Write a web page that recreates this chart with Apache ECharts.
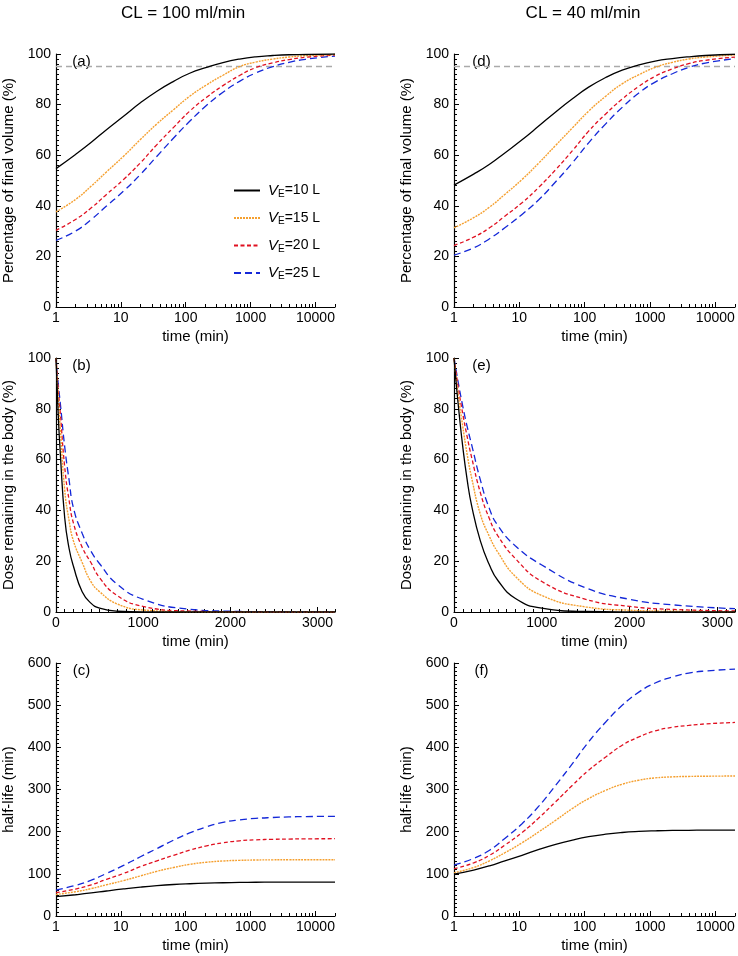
<!DOCTYPE html>
<html>
<head>
<meta charset="utf-8">
<title>VE / CL curves</title>
<script src="https://cdn.jsdelivr.net/npm/echarts@6.0.0/dist/echarts.min.js"></script>
<style>
  html, body { margin: 0; padding: 0; background: #fff; }
  #chart { width: 738px; height: 956px; }
</style>
</head>
<body>
<div id="chart"></div>
<script>
const logTimes = [1, 2, 3.5, 6, 11, 20, 36, 65, 115, 210, 375, 675, 1200, 2200, 3900, 7000, 20000];
const linTimes = [0, 25, 50, 100, 150, 200, 300, 400, 500, 700, 1000, 1500, 2000, 2500, 3200];

const seriesNames = ["VE=10 L", "VE=15 L", "VE=20 L", "VE=25 L"];

// (a) percentage of final volume, CL = 100 ml/min
const volCL100_VE10 = [54.7, 60.3, 65.1, 70.1, 75.4, 80.7, 85.3, 89.2, 92.4, 94.7, 96.6, 98.0, 98.9, 99.4, 99.7, 99.8, 100];
const volCL100_VE15 = [37.6, 42.5, 47.8, 53.4, 59.6, 66.2, 72.4, 78.0, 83.3, 87.8, 91.6, 95.0, 96.8, 98.0, 98.8, 99.3, 99.8];
const volCL100_VE20 = [30.3, 34.6, 39.2, 44.5, 50.4, 57.0, 64.2, 71.0, 77.4, 82.9, 87.5, 91.5, 94.6, 96.5, 97.8, 98.7, 99.6];
const volCL100_VE25 = [26.3, 30.0, 34.6, 39.9, 45.8, 52.4, 59.6, 66.8, 73.4, 79.7, 84.9, 89.2, 92.5, 95.0, 96.7, 97.9, 99.2];

// (d) percentage of final volume, CL = 40 ml/min
const volCL40_VE10 = [48.2, 52.5, 56.4, 60.9, 66.1, 71.6, 77.1, 82.3, 86.9, 90.7, 93.6, 95.7, 97.2, 98.2, 98.9, 99.4, 99.9];
const volCL40_VE15 = [31.3, 35.3, 39.5, 44.5, 50.4, 57.0, 63.9, 70.8, 77.4, 83.3, 88.2, 91.8, 94.7, 96.7, 98.0, 98.8, 99.6];
const volCL40_VE20 = [24.3, 27.6, 31.3, 35.9, 41.2, 47.4, 54.3, 61.8, 69.5, 76.3, 82.2, 87.2, 91.2, 94.1, 96.2, 97.5, 98.8];
const volCL40_VE25 = [20.5, 23.4, 27.0, 31.3, 36.6, 42.5, 49.5, 57.0, 64.9, 72.4, 78.9, 84.6, 88.9, 92.2, 94.7, 96.4, 98.2];

// (b) dose remaining in the body, CL = 100 ml/min
const doseCL100_VE10 = [100, 78, 62, 37, 25, 18, 8, 3.5, 1.5, 0.3, 0, 0, 0, 0, 0];
const doseCL100_VE15 = [100, 85, 72, 48, 36, 28, 19.5, 12, 8, 3.2, 0.8, 0.1, 0, 0, 0];
const doseCL100_VE20 = [100, 88, 78, 57, 44, 35, 25.5, 19.5, 13.5, 6.5, 2.2, 0.4, 0.1, 0, 0];
const doseCL100_VE25 = [100, 90, 82, 65, 52, 41, 31, 24, 19, 11, 5, 1.2, 0.3, 0.1, 0];

// (e) dose remaining in the body, CL = 40 ml/min
const doseCL40_VE10 = [100, 90, 81, 65, 52, 42, 28, 18.8, 12.4, 5.3, 1.5, 0.2, 0.03, 0, 0];
const doseCL40_VE15 = [100, 92, 85, 73, 62, 53, 38.5, 30, 23.5, 14, 6.5, 2, 0.7, 0.3, 0.1];
const doseCL40_VE20 = [100, 94, 88, 78, 69, 61, 47, 37, 30, 21, 12, 5, 2.2, 1, 0.4];
const doseCL40_VE25 = [100, 95, 90, 81, 73, 66, 52, 41, 34, 26, 18.5, 9.5, 5, 2.8, 1.3];

// (c) half-life, CL = 100 ml/min
const halfCL100_VE10 = [45.8, 50.4, 54.6, 59.3, 64.2, 68.5, 72.0, 74.7, 76.5, 77.9, 78.9, 79.6, 80.0, 80.2, 80.3, 80.3, 80.3];
const halfCL100_VE15 = [51, 57.6, 65, 74, 84, 95, 106, 115, 122.5, 127.5, 130.5, 132, 132.8, 133.2, 133.4, 133.5, 133.5];
const halfCL100_VE20 = [55.2, 64, 74, 87, 101, 117, 131, 144, 156, 166.5, 173.6, 178.4, 180.7, 181.8, 182.5, 183, 183.3];
const halfCL100_VE25 = [61.6, 72.6, 85, 101, 120, 140.5, 160, 180, 197, 211.5, 222, 228, 231.5, 233.6, 235, 235.8, 236.3];

// (f) half-life, CL = 40 ml/min
const halfCL40_VE10 = [99.4, 109, 119, 131, 144, 158, 170, 180, 188, 194, 198, 200.5, 202, 203, 203.3, 203.5, 203.6];
const halfCL40_VE15 = [102.6, 115, 131, 150, 173.6, 200, 227, 255, 278.6, 298, 312.5, 322, 327.5, 330, 331, 331.5, 332];
const halfCL40_VE20 = [112, 126, 144, 168, 198, 233, 271, 310, 345.7, 377, 405, 424.6, 439, 447.5, 452, 455.5, 459];
const halfCL40_VE25 = [120.8, 136.5, 156, 184, 219, 261, 310, 361.5, 413, 460, 499.6, 531, 552.5, 566.7, 576, 581, 585.6];

// 95 % reference level in (a) and (d)
const refLevel = 95;

// tick values
const logMajorTicks = [1, 10, 100, 1000, 10000];
const linMajorTicks = [0, 1000, 2000, 3000];

const FONT = "'Liberation Sans', Arial, sans-serif";
const lineColor = "#000";

const logMinorTicks = [];
for (let d = 1; d <= 10000; d *= 10) {
  for (let k = 2; k <= 9; k++) if (k * d <= 20000) logMinorTicks.push(k * d);
}
const linMinorTicks = [];
for (let v = 100; v <= 3200; v += 100) if (v % 1000 !== 0) linMinorTicks.push(v);

const lineStyles = [
  { color: "#000000", width: 1.3, type: "solid" },
  { color: "#f5a030", width: 1.4, type: [2, 1] },
  { color: "#e01020", width: 1.3, type: [4, 2.5] },
  { color: "#1428d8", width: 1.3, type: [7, 4] },
];

// grid boxes: a, b, c (left column) then d, e, f (right column)
const grids = [
  { left: 54, top: 54, width: 281, height: 253 },
  { left: 54, top: 358, width: 281, height: 254 },
  { left: 54, top: 663, width: 281, height: 253 },
  { left: 454, top: 54, width: 281, height: 253 },
  { left: 454, top: 358, width: 281, height: 254 },
  { left: 454, top: 663, width: 281, height: 253 },
];
const panelLabels = ["(a)", "(b)", "(c)", "(d)", "(e)", "(f)"];
const panelKinds = ["vol", "dose", "half", "vol", "dose", "half"];
const panelData = [
  [volCL100_VE10, volCL100_VE15, volCL100_VE20, volCL100_VE25],
  [doseCL100_VE10, doseCL100_VE15, doseCL100_VE20, doseCL100_VE25],
  [halfCL100_VE10, halfCL100_VE15, halfCL100_VE20, halfCL100_VE25],
  [volCL40_VE10, volCL40_VE15, volCL40_VE20, volCL40_VE25],
  [doseCL40_VE10, doseCL40_VE15, doseCL40_VE20, doseCL40_VE25],
  [halfCL40_VE10, halfCL40_VE15, halfCL40_VE20, halfCL40_VE25],
];

const tickLine = { lineStyle: { color: lineColor, width: 1 } };
const labelStyle = { fontSize: 14, color: "#000", fontFamily: FONT };
const nameStyle = { fontSize: 15, color: "#000", fontFamily: FONT };

const xAxis = [];
const yAxis = [];
const series = [];
const graphic = [
  { type: "text", x: 183, y: 13, style: { text: "CL = 100 ml/min", font: "17px " + FONT, fill: "#000", textAlign: "center", textVerticalAlign: "middle", align: "center", verticalAlign: "middle" } },
  { type: "text", x: 583, y: 13, style: { text: "CL = 40 ml/min", font: "17px " + FONT, fill: "#000", textAlign: "center", textVerticalAlign: "middle", align: "center", verticalAlign: "middle" } },
];

grids.forEach((g, gi) => {
  const kind = panelKinds[gi];
  const isLog = kind !== "dose";
  const common = {
    gridIndex: gi,
    type: isLog ? "log" : "value",
    min: isLog ? 1 : 0,
    max: isLog ? 20000 : 3200,
    splitLine: { show: false },
  };
  if (isLog) common.logBase = 10;
  const majorTicks = isLog ? logMajorTicks : linMajorTicks;
  const minorTicks = isLog ? logMinorTicks : linMinorTicks;
  const majorIndex = xAxis.length;
  xAxis.push(Object.assign({}, common, {
    position: "bottom",
    name: "time (min)",
    nameLocation: "middle",
    nameGap: 22,
    nameTextStyle: nameStyle,
    axisLine: { show: true, onZero: false, lineStyle: { color: lineColor, width: 1.2 } },
    axisTick: Object.assign({ inside: true, length: 5, customValues: majorTicks }, tickLine),
    axisLabel: Object.assign({ margin: 4, customValues: majorTicks, formatter: (v) => String(Math.round(v)) }, labelStyle),
  }));
  xAxis.push(Object.assign({}, common, {
    position: "bottom",
    axisLine: { show: false, onZero: false },
    axisLabel: { show: false },
    axisTick: Object.assign({ inside: true, length: 3, customValues: minorTicks }, tickLine),
  }));

  const yMax = kind === "half" ? 600 : 100;
  const yName = kind === "vol" ? "Percentage of final volume (%)"
    : kind === "dose" ? "Dose remaining in the body (%)" : "half-life (min)";
  yAxis.push({
    gridIndex: gi,
    type: "value",
    min: 0,
    max: yMax,
    interval: yMax === 600 ? 100 : 20,
    name: yName,
    nameLocation: "middle",
    nameGap: 40,
    nameTextStyle: nameStyle,
    axisLine: { show: true, onZero: false, lineStyle: { color: lineColor, width: 1.2 } },
    axisTick: Object.assign({ inside: true, length: 5 }, tickLine),
    minorTick: Object.assign({ show: true, splitNumber: 10, length: 3 }, tickLine),
    axisLabel: Object.assign({ margin: 5 }, labelStyle),
    splitLine: { show: false },
    minorSplitLine: { show: false },
  });

  const times = isLog ? logTimes : linTimes;
  panelData[gi].forEach((vals, si) => {
    const s = {
      type: "line",
      name: seriesNames[si],
      xAxisIndex: majorIndex,
      yAxisIndex: gi,
      data: times.map((t, i) => [t, vals[i]]),
      symbol: "none",
      showSymbol: false,
      smooth: 0.5,
      lineStyle: lineStyles[si],
      itemStyle: { color: lineStyles[si].color },
      silent: true,
      z: 10 - si,
    };
    if (kind === "vol" && si === 0) {
      s.markLine = {
        silent: true,
        symbol: ["none", "none"],
        label: { show: false },
        lineStyle: { color: "#aaaaaa", type: [6, 4], width: 1.3 },
        data: [{ yAxis: refLevel }],
      };
    }
    series.push(s);
  });

  graphic.push({
    type: "text",
    x: g.left + 27.5,
    y: g.top + 8,
    style: { text: panelLabels[gi], font: "15px " + FONT, fill: "#000", textAlign: "center", textVerticalAlign: "middle", align: "center", verticalAlign: "middle" },
  });
});

const chart = echarts.init(document.getElementById("chart"));
const option = {
  animation: false,
  backgroundColor: "#fff",
  textStyle: { fontFamily: FONT },
  grid: grids,
  xAxis: xAxis,
  yAxis: yAxis,
  series: series,
  graphic: graphic,
  legend: {
    data: seriesNames,
    orient: "vertical",
    left: 228,
    top: 178,
    itemWidth: 26,
    itemHeight: 14,
    itemGap: 11.5,
    selectedMode: false,
    itemStyle: { opacity: 0 },
    formatter: (n) => "{v|V}{s|E}" + n.slice(2),
    textStyle: {
      fontSize: 14,
      color: "#000",
      fontFamily: FONT,
      padding: [0, 0, 0, 3],
      rich: {
        v: { fontSize: 15, fontStyle: "italic", color: "#000", fontFamily: FONT },
        s: { fontSize: 10, color: "#000", fontFamily: FONT, padding: [7, 0, 0, 0] },
      },
    },
  },
};
chart.setOption(option);
window.onresize = function () {
  chart.resize();
};
</script>
</body>
</html>
